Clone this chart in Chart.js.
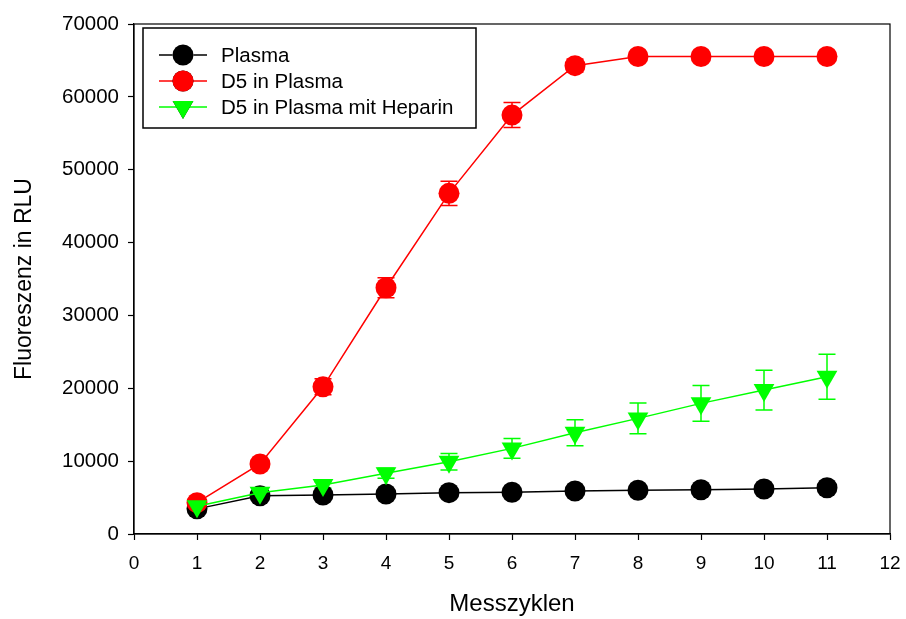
<!DOCTYPE html>
<html>
<head>
<meta charset="utf-8">
<script src="https://cdn.jsdelivr.net/npm/chart.js@4.4.1/dist/chart.umd.min.js"></script>
<style>
  html, body { margin: 0; padding: 0; background: #ffffff; }
  #wrap { width: 906px; height: 619px; }
</style>
</head>
<body>
<div id="wrap"><canvas id="c" width="906" height="619"></canvas></div>
<script>
// Measurement cycles
const cycles = [1, 2, 3, 4, 5, 6, 7, 8, 9, 10, 11];

// Mean fluorescence (RLU) per series
const plasma       = [3450, 5250, 5350, 5490, 5670, 5730, 5900, 6000, 6080, 6170, 6350];
const d5Plasma     = [4300, 9610, 20200, 33800, 46760, 57500, 64280, 65535, 65535, 65535, 65535];
const d5Heparin    = [3800, 5670, 6730, 8330, 9920, 11750, 13900, 15870, 17930, 19750, 21580];

// Standard deviations
const plasmaErr    = [150, 150, 150, 150, 150, 150, 150, 150, 150, 150, 150];
const d5PlasmaErr  = [300, 500, 1100, 1370, 1670, 1720, 870, 100, 100, 100, 100];
const d5HeparinErr = [200, 300, 450, 690, 1140, 1370, 1780, 2100, 2440, 2740, 3090];

// Axis ticks
const xTicks = [0, 1, 2, 3, 4, 5, 6, 7, 8, 9, 10, 11, 12];
const yTicks = [0, 10000, 20000, 30000, 40000, 50000, 60000, 70000];

const FONT = '"Liberation Sans", Arial, sans-serif';

function pts(vals) {
  return cycles.map((c, i) => ({ x: c, y: vals[i] }));
}

// Vertical error bars with caps, drawn behind the symbols
const errorBars = {
  id: 'errorBars',
  beforeDatasetsDraw(chart) {
    const ctx = chart.ctx;
    const xs = chart.scales.x, ys = chart.scales.y;
    chart.data.datasets.forEach((ds) => {
      if (!ds.errors) return;
      ctx.save();
      ctx.strokeStyle = ds.borderColor;
      ctx.lineWidth = 1.5;
      ds.data.forEach((p, i) => {
        const e = ds.errors[i];
        const px = xs.getPixelForValue(p.x);
        const top = ys.getPixelForValue(p.y + e);
        const bot = ys.getPixelForValue(p.y - e);
        const cap = 8.5;
        ctx.beginPath();
        ctx.moveTo(px, top); ctx.lineTo(px, bot);
        ctx.moveTo(px - cap, top); ctx.lineTo(px + cap, top);
        ctx.moveTo(px - cap, bot); ctx.lineTo(px + cap, bot);
        ctx.stroke();
      });
      ctx.restore();
    });
  }
};

// Closed frame around the plotting area
const frame = {
  id: 'frame',
  afterDraw(chart) {
    const { left, top, right, bottom } = chart.chartArea;
    const ctx = chart.ctx;
    ctx.save();
    ctx.strokeStyle = '#000';
    ctx.lineWidth = 1.2;
    ctx.strokeRect(left, top, right - left, bottom - top);
    ctx.restore();
  }
};

// Boxed legend inside the upper-left corner of the plot
const boxLegend = {
  id: 'boxLegend',
  afterDraw(chart) {
    const ctx = chart.ctx;
    const bx = 143, by = 28, bw = 333, bh = 100;
    ctx.save();
    ctx.fillStyle = '#fff';
    ctx.fillRect(bx, by, bw, bh);
    ctx.strokeStyle = '#000';
    ctx.lineWidth = 1.5;
    ctx.strokeRect(bx, by, bw, bh);
    const rows = [55, 81, 107];
    chart.data.datasets.forEach((ds, i) => {
      const y = rows[i];
      ctx.strokeStyle = ds.borderColor;
      ctx.lineWidth = 1.5;
      ctx.beginPath();
      ctx.moveTo(159, y); ctx.lineTo(207, y);
      ctx.stroke();
      Chart.helpers.drawPoint(ctx, {
        pointStyle: ds.pointStyle,
        radius: ds.pointRadius,
        rotation: ds.pointRotation || 0,
        borderWidth: 0
      }, 183, y);
      ctx.fillStyle = ds.pointBackgroundColor;
      ctx.fill();
      ctx.fillStyle = '#000';
      ctx.font = '20.5px ' + FONT;
      ctx.textBaseline = 'middle';
      ctx.textAlign = 'left';
      ctx.fillText(ds.label, 221, y + 1);
    });
    ctx.restore();
  }
};

const common = {
  showLine: true,
  tension: 0,
  borderWidth: 1.5,
  pointBorderWidth: 0,
  pointHoverRadius: 10,
  clip: false
};

new Chart(document.getElementById('c'), {
  type: 'scatter',
  data: {
    datasets: [
      Object.assign({}, common, {
        label: 'Plasma',
        data: pts(plasma),
        errors: plasmaErr,
        borderColor: '#000000',
        backgroundColor: '#000000',
        pointBackgroundColor: '#000000',
        pointStyle: 'circle',
        pointRadius: 10.5,
        order: 3
      }),
      Object.assign({}, common, {
        label: 'D5 in Plasma',
        data: pts(d5Plasma),
        errors: d5PlasmaErr,
        borderColor: '#ff0000',
        backgroundColor: '#ff0000',
        pointBackgroundColor: '#ff0000',
        pointStyle: 'circle',
        pointRadius: 10.5,
        order: 2
      }),
      Object.assign({}, common, {
        label: 'D5 in Plasma mit Heparin',
        data: pts(d5Heparin),
        errors: d5HeparinErr,
        borderColor: '#00ff00',
        backgroundColor: '#00ff00',
        pointBackgroundColor: '#00ff00',
        pointStyle: 'triangle',
        pointRotation: 180,
        pointRadius: 12,
        order: 1
      })
    ]
  },
  options: {
    responsive: false,
    animation: false,
    devicePixelRatio: 1,
    layout: { padding: { top: 24, right: 16, left: 0, bottom: 0 } },
    plugins: {
      legend: { display: false },
      tooltip: { enabled: false }
    },
    scales: {
      x: {
        type: 'linear',
        min: 0, max: 12,
        afterFit(s) { s.height = 85; s.paddingLeft = 0; s.paddingRight = 0; },
        afterBuildTicks(s) { s.ticks = xTicks.map(v => ({ value: v })); },
        ticks: {
          color: '#000',
          font: { family: FONT, size: 19 },
          padding: 12,
          maxRotation: 0,
          callback: v => String(v)
        },
        grid: { drawOnChartArea: false, drawTicks: true, tickLength: 6, color: '#000', tickWidth: 1.2 },
        border: { display: true, color: '#000', width: 1.2 },
        title: {
          display: true,
          text: 'Messzyklen',
          color: '#000',
          font: { family: FONT, size: 24 },
          padding: { top: 1, bottom: 0 }
        }
      },
      y: {
        min: 0, max: 70000,
        afterFit(s) { s.width = 134; s.paddingTop = 0; s.paddingBottom = 0; },
        afterBuildTicks(s) { s.ticks = yTicks.map(v => ({ value: v })); },
        ticks: {
          color: '#000',
          font: { family: FONT, size: 20.5 },
          padding: 9,
          callback: v => String(v)
        },
        grid: { drawOnChartArea: false, drawTicks: true, tickLength: 6, color: '#000', tickWidth: 1.2 },
        border: { display: true, color: '#000', width: 1.2 },
        title: {
          display: true,
          text: 'Fluoreszenz in RLU',
          color: '#000',
          font: { family: FONT, size: 23 },
          padding: { top: 11, bottom: 0 }
        }
      }
    }
  },
  plugins: [errorBars, frame, boxLegend]
});
</script>
</body>
</html>
